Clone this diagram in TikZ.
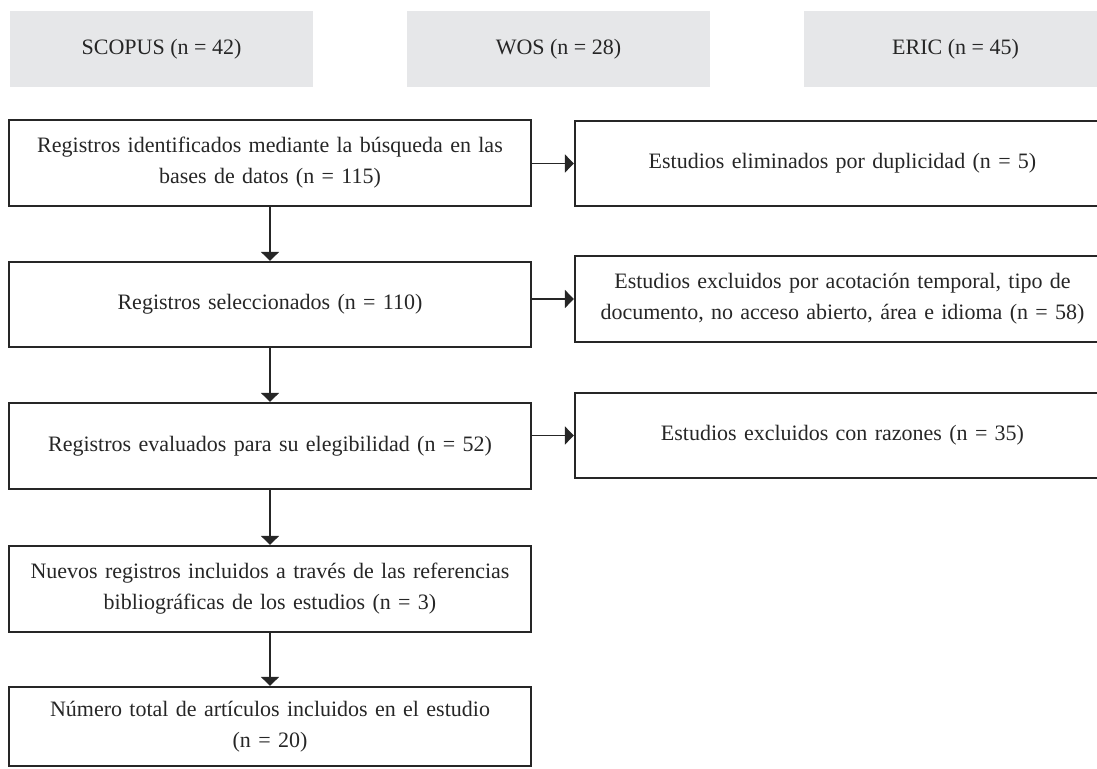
\documentclass[tikz,border=0pt]{standalone}
\usepackage{fontspec}
\setmainfont{Liberation Serif}
\usetikzlibrary{arrows.meta}
\definecolor{boxgray}{HTML}{E6E7E9}
\definecolor{ink}{HTML}{262626}
\begin{document}
\begin{tikzpicture}[x=1pt,y=-1pt,
  txt/.style={font=\fontsize{22}{31}\selectfont,text=ink},
  src/.style={txt,fill=boxgray,draw=none,minimum width=303pt,minimum height=76pt,inner sep=0pt},
  lbox/.style={txt,draw=ink,line width=2.2pt,minimum width=522pt,inner sep=0pt,align=center,text width=516pt},
  rbox/.style={txt,draw=ink,line width=2.2pt,minimum width=535pt,inner sep=0pt,align=center,text width=528pt},
  conn/.style={draw=ink,line width=1.3pt,-{Triangle[length=9pt,width=18pt]}}]
\useasboundingbox (0,0) rectangle (1097,768);
\clip (0,0) rectangle (1097,768);
\node[src] (scopus) at (161.5,49) {SCOPUS (n = 42)};
\node[src] (wos) at (558.5,49) {WOS (n = 28)};
\node[src] (eric) at (955.5,49) {ERIC (n = 45)};

\node[lbox,minimum height=86pt] (b1) at (270,163) {Registros identificados mediante la búsqueda en las\\bases de datos (n = 115)};
\node[lbox,minimum height=85pt] (b2) at (270,304.5) {Registros seleccionados (n = 110)};
\node[lbox,minimum height=86pt] (b3) at (270,446) {Registros evaluados para su elegibilidad (n = 52)};
\node[lbox,minimum height=86pt] (b4) at (270,589) {Nuevos registros incluidos a través de las referencias\\bibliográficas de los estudios (n = 3)};
\node[lbox,minimum height=79pt] (b5) at (270,726.5) {Número total de artículos incluidos en el estudio\\(n = 20)};

\node[rbox,minimum height=85pt] (r1) at (842.5,163.5) {Estudios eliminados por duplicidad (n = 5)};
\node[rbox,minimum height=86pt] (r2) at (842.5,299) {Estudios excluidos por acotación temporal, tipo de\\documento, no acceso abierto, área e idioma (n = 58)};
\node[rbox,minimum height=85pt] (r3) at (842.5,435.5) {Estudios excluidos con razones (n = 35)};

\draw[conn] (b1.south) -- (b2.north);
\draw[conn] (b2.south) -- (b3.north);
\draw[conn] (b3.south) -- (b4.north);
\draw[conn] (b4.south) -- (b5.north);
\draw[conn] (b1.east |- r1.west) -- (r1.west);
\draw[conn] (b2.east |- r2.west) -- (r2.west);
\draw[conn] (b3.east |- r3.west) -- (r3.west);
\end{tikzpicture}
\end{document}
